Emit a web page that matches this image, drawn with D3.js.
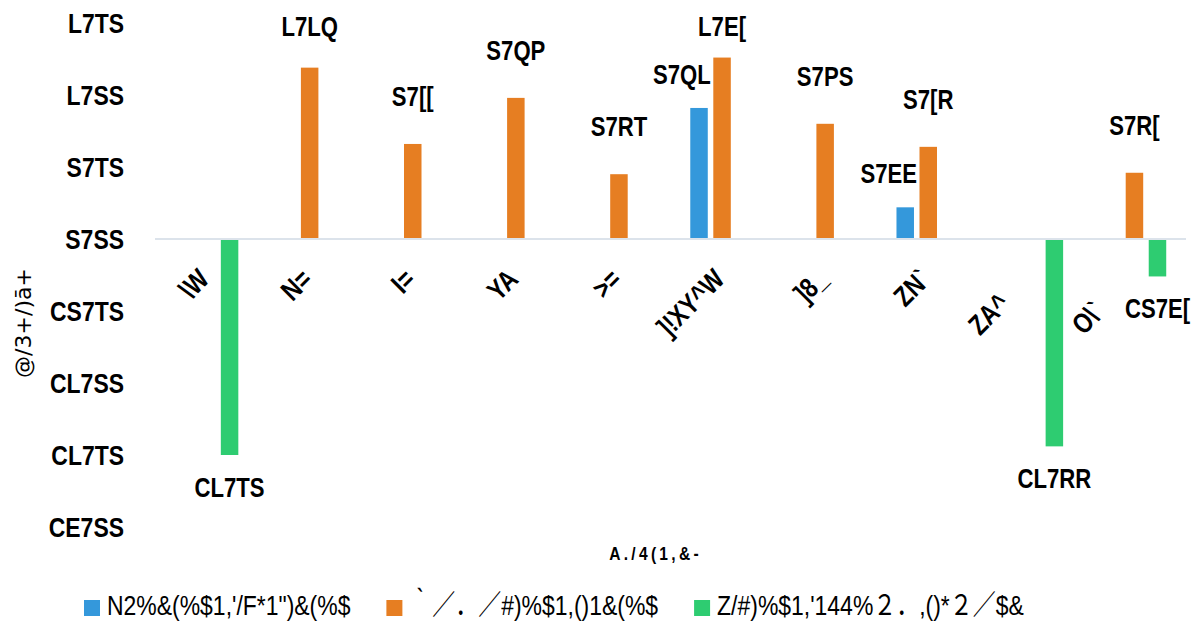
<!DOCTYPE html>
<html>
<head>
<meta charset="UTF-8" />
<title>Chart</title>
<style>
  body { margin: 0; background: #fff; }
  svg text { font-family: "Liberation Sans", Arial, "Noto Sans CJK SC", sans-serif; fill: #000; }
</style>
</head>
<body>
<script src="https://cdn.jsdelivr.net/npm/d3@7"></script>
<div id="app"></div>
<script>
// data
const categories = ["\\W", "N=", "I=", "YA", ">=", "]!XY^W", "]8_", "ZN`", "ZA^\u2003\u2002", "O\\`\u2003\u2003"];
const seriesNames = ["N2%&(%$1,'/F*1\")&(%$", "｀／．／#)%$1,()1&(%$", "Z/#)%$1,'144%２．,()*２／$&"];
const seriesBlue   = [null, null, null, null, null, 0.91, null, 0.22, null, null];
const seriesOrange = [null, 1.19, 0.66, 0.98, 0.45, 1.26, 0.80, 0.64, null, 0.46];
const seriesGreen  = [-1.50, null, null, null, null, null, null, null, -1.44, -0.26];
const yTicks = [-2, -1.5, -1, -0.5, 0, 0.5, 1, 1.5];
const xTitle = "A./4(1,&-\u2003\u2002";
const yTitle = "@/3+/)ā+";
// the number glyphs as they come out in the picture
const glyphs = { "0": "S", "1": "L", "2": "E", "4": "R", "5": "T", "6": "[", "8": "P", "9": "Q", ".": "7", "-": "C", "\u2212": "C" };

const colors = ["#3498db", "#e67e22", "#2ecc71"];
const w = 1196, h = 623;
const padL = 155, padR = 1186, padT = 23, padB = 527;
const narrow = 0.82; // squeeze the sans into a narrow face

const fmt = d3.format(".2f");
const label = v => fmt(v).split("").map(c => glyphs[c] || c).join("");

const svg = d3.select("#app").append("svg")
  .attr("width", w)
  .attr("height", h);

const x0 = d3.scaleBand()
  .domain(categories)
  .range([padL, padR])
  .paddingInner(0.33)
  .paddingOuter(0.165);

const x1 = d3.scaleBand()
  .domain([0, 1, 2])
  .range([0, x0.bandwidth()])
  .paddingInner(0.24)
  .paddingOuter(0.12);

const y = d3.scaleLinear()
  .domain([-2, 1.5])
  .range([padB, padT]);

// y tick labels
svg.append("g")
  .selectAll("text")
  .data(yTicks)
  .join("text")
  .attr("transform", d => `translate(124,${y(d)}) scale(${narrow},1)`)
  .attr("dy", "0.36em")
  .attr("text-anchor", "end")
  .style("font-size", "28px")
  .style("font-weight", "bold")
  .text(label);

// bars
const rows = [];
[seriesBlue, seriesOrange, seriesGreen].forEach((s, i) => {
  s.forEach((v, j) => { if (v != null) rows.push({ s: i, cat: categories[j], v: v }); });
});

svg.append("g")
  .selectAll("rect")
  .data(rows)
  .join("rect")
  .attr("x", d => x0(d.cat) + x1(d.s))
  .attr("width", x1.bandwidth())
  .attr("y", d => y(Math.max(0, d.v)))
  .attr("height", d => Math.abs(y(d.v) - y(0)))
  .attr("fill", d => colors[d.s]);

// zero line
svg.append("line")
  .attr("x1", padL).attr("x2", padR)
  .attr("y1", y(0)).attr("y2", y(0))
  .attr("stroke", "#dce3eb")
  .attr("stroke-width", 2);

// value labels
const lx = d => d.s === 0 ? x0(d.cat) + x1(d.s) + x1.bandwidth() + 3 : x0(d.cat) + x1(d.s) + x1.bandwidth() / 2;
const ly = d => d.v >= 0 ? Math.max(36, y(d.v) - (d.s === 0 ? 24 : 38)) : y(d.v) + 42;
svg.append("g")
  .selectAll("text")
  .data(rows)
  .join("text")
  .attr("transform", d => `translate(${lx(d)},${ly(d)}) scale(${narrow},1)`)
  .attr("text-anchor", d => d.s === 0 ? "end" : "middle")
  .style("font-size", "27px")
  .style("font-weight", "bold")
  .text(d => label(d.v));

// category labels
svg.append("g")
  .selectAll("text")
  .data(categories)
  .join("text")
  .attr("text-anchor", "end")
  .attr("transform", d => `translate(${x0(d) + x0.bandwidth() / 2 + 4},${y(0) + 42}) rotate(-45) scale(${narrow},1)`)
  .style("font-size", "28px")
  .style("font-weight", "bold")
  .text(d => d);

// axis titles
svg.append("text")
  .attr("transform", `translate(${(padL + padR) / 2},560) scale(${narrow},1)`)
  .attr("text-anchor", "middle")
  .style("font-size", "19px")
  .style("font-weight", "bold")
  .style("letter-spacing", "4px")
  .text(xTitle);

svg.append("text")
  .attr("transform", `translate(31,${(padT + padB) / 2 + 48}) rotate(-90)`)
  .attr("text-anchor", "middle")
  .style("font-family", "'DejaVu Sans', sans-serif")
  .style("font-size", "22px")
  .text(yTitle);

// legend
const legend = svg.append("g").attr("transform", "translate(84,600)");
let legX = 0;
seriesNames.forEach((name, i) => {
  const g = legend.append("g").attr("transform", `translate(${legX},0)`);
  g.append("rect")
    .attr("width", 16).attr("height", 16)
    .attr("fill", colors[i]);
  const t = g.append("text")
    .attr("transform", `translate(23,15) scale(${narrow},1)`)
    .style("font-size", "28px")
    .text(name);
  legX += 23 + t.node().getComputedTextLength() * narrow + 36;
});
</script>
</body>
</html>
